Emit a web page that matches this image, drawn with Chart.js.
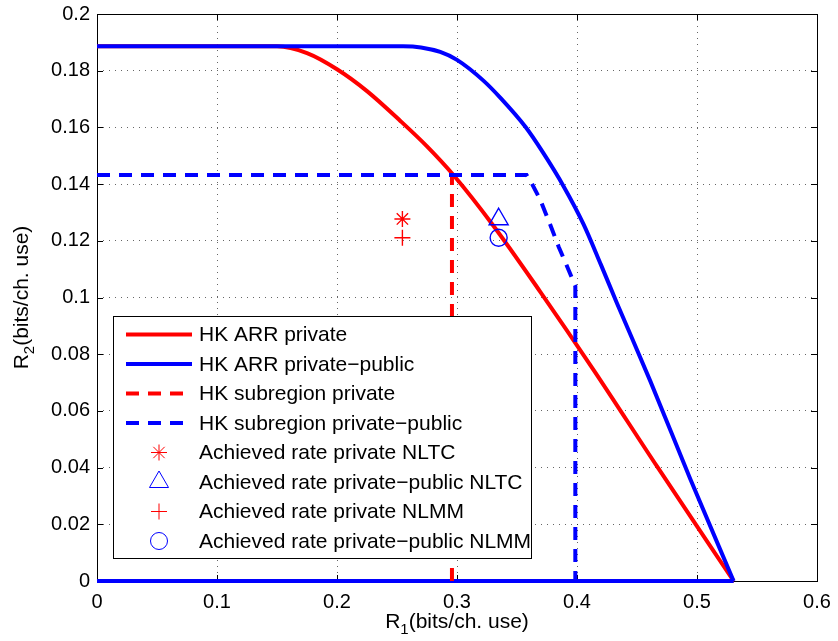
<!DOCTYPE html>
<html>
<head>
<meta charset="utf-8">
<script src="https://cdn.jsdelivr.net/npm/chart.js@4.4.0/dist/chart.umd.min.js"></script>
<style>
  html, body { margin: 0; padding: 0; background: #fff; }
  #wrap { width: 838px; height: 641px; }
</style>
</head>
<body>
<div id="wrap"><canvas id="chart"></canvas></div>
<script>
// ---- values ----
const arrPrivX = [0, 0.15, 0.175, 0.2, 0.225, 0.253, 0.275, 0.297, 0.33, 0.3694, 0.4139, 0.4667, 0.5305];
const arrPrivY = [0.1886, 0.1886, 0.1862, 0.1805, 0.1728, 0.1622, 0.1533, 0.1432, 0.1255, 0.102, 0.0744, 0.0404, 0];
const arrPubX = [0, 0.255, 0.27, 0.286, 0.3, 0.322, 0.336, 0.357, 0.372, 0.389, 0.4055, 0.42, 0.4333, 0.4611, 0.4944, 0.5305];
const arrPubY = [0.1886, 0.1886, 0.1882, 0.1866, 0.1838, 0.1765, 0.1705, 0.1602, 0.1509, 0.1391, 0.1258, 0.1115, 0.098, 0.0705, 0.036, 0];
const baseX = [0, 0.5305];
const baseY = [0, 0];
const subPrivX = [0, 0.2958, 0.2958];
const subPrivY = [0.1432, 0.1432, 0];
const subPubX = [0, 0.358, 0.362, 0.3694, 0.3778, 0.3847, 0.393, 0.3986, 0.3986];
const subPubY = [0.1432, 0.1432, 0.1405, 0.1344, 0.1256, 0.1179, 0.1097, 0.104, 0];
const privNLTC = [0.2545, 0.1277];
const pubNLTC = [0.3347, 0.1276];
const privNLMM = [0.2545, 0.1211];
const pubNLMM = [0.3347, 0.1211];

const xTicks = [0, 0.1, 0.2, 0.3, 0.4, 0.5, 0.6];
const yTicks = [0, 0.02, 0.04, 0.06, 0.08, 0.1, 0.12, 0.14, 0.16, 0.18, 0.2];

const legendNames = [
  'HK ARR private',
  'HK ARR private\u2212public',
  'HK subregion private',
  'HK subregion private\u2212public',
  'Achieved rate private NLTC',
  'Achieved rate private\u2212public NLTC',
  'Achieved rate private NLMM',
  'Achieved rate private\u2212public NLMM',
];

const RED = '#ff0000', BLUE = '#0000ff';
const FONT = "'Liberation Sans', Arial, Helvetica, sans-serif";
const pts = (xs, ys) => xs.map((x, i) => ({ x, y: ys[i] }));
const fmt = v => String(Math.round(v * 100) / 100);

function lineSet(label, xs, ys, color, dash, order, smooth) {
  return { label, data: pts(xs, ys), borderColor: color, borderWidth: 4, borderDash: dash,
    pointRadius: 0, showLine: true, fill: false, clip: false, order,
    cubicInterpolationMode: smooth ? 'monotone' : 'default', tension: 0 };
}
function markSet(label, p, color, style, r, order) {
  return { label, data: [{ x: p[0], y: p[1] }], showLine: false, pointStyle: style,
    pointRadius: r, pointBorderColor: color, pointBackgroundColor: 'rgba(0,0,0,0)',
    pointBorderWidth: 1.4, borderColor: color, clip: false, order };
}

const datasets = [
  lineSet(legendNames[0], arrPrivX, arrPrivY, RED, [], 11, true),
  lineSet(legendNames[1], arrPubX, arrPubY, BLUE, [], 9, true),
  lineSet(legendNames[2], subPrivX, subPrivY, RED, [13, 9], 7, false),
  lineSet(legendNames[3], subPubX, subPubY, BLUE, [13, 9], 6, false),
  markSet(legendNames[4], privNLTC, RED, 'star', 8, 5),
  markSet(legendNames[5], pubNLTC, BLUE, 'triangle', 11, 4),
  markSet(legendNames[6], privNLMM, RED, 'cross', 8, 3),
  markSet(legendNames[7], pubNLMM, BLUE, 'circle', 8.5, 2),
  // closing edges of the two regions along R2 = 0
  lineSet('', baseX, baseY, RED, [], 10, false),
  lineSet('', baseX, baseY, BLUE, [], 8, false),
];

// box, inward ticks, axis titles with subscripts, legend inside the axes
const matlabFrame = {
  id: 'matlabFrame',
  beforeDatasetsDraw(chart) {
    const { ctx, chartArea: a, scales } = chart;
    ctx.save();
    ctx.strokeStyle = '#000';
    ctx.lineWidth = 1;
    ctx.strokeRect(Math.round(a.left) + 0.5, Math.round(a.top) + 0.5,
      Math.round(a.right - a.left), Math.round(a.bottom - a.top));
    ctx.beginPath();
    xTicks.forEach(v => {
      const px = Math.round(scales.x.getPixelForValue(v)) + 0.5;
      ctx.moveTo(px, a.bottom); ctx.lineTo(px, a.bottom - 6);
      ctx.moveTo(px, a.top); ctx.lineTo(px, a.top + 6);
    });
    yTicks.forEach(v => {
      const py = Math.round(scales.y.getPixelForValue(v)) + 0.5;
      ctx.moveTo(a.left, py); ctx.lineTo(a.left + 6, py);
      ctx.moveTo(a.right, py); ctx.lineTo(a.right - 6, py);
    });
    ctx.stroke();
    ctx.restore();
  },
  afterDatasetsDraw(chart) {
    const ctx = chart.ctx;
    const L = 113.5, T = 316.5, W = 418, H = 242;
    ctx.save();
    ctx.fillStyle = '#fff';
    ctx.fillRect(L, T, W, H);
    ctx.strokeStyle = '#000';
    ctx.lineWidth = 1;
    ctx.strokeRect(L, T, W, H);
    ctx.font = '21px ' + FONT;
    ctx.textBaseline = 'middle';
    chart.data.datasets.slice(0, legendNames.length).forEach((ds, i) => {
      const cy = 334.5 + i * 29.5;
      if (ds.showLine) {
        ctx.save();
        ctx.strokeStyle = ds.borderColor;
        ctx.lineWidth = 4;
        ctx.setLineDash(ds.borderDash);
        ctx.beginPath();
        ctx.moveTo(126, cy); ctx.lineTo(192, cy);
        ctx.stroke();
        ctx.restore();
      } else {
        ctx.save();
        ctx.strokeStyle = ds.pointBorderColor;
        ctx.fillStyle = 'rgba(0,0,0,0)';
        Chart.helpers.drawPoint(ctx, { pointStyle: ds.pointStyle, radius: ds.pointRadius,
          rotation: 0, borderWidth: ds.pointBorderWidth }, 159, cy);
        ctx.restore();
      }
      ctx.fillStyle = '#000';
      ctx.fillText(ds.label, 199, cy + 1);
    });
    ctx.restore();
  },
  afterDraw(chart) {
    const { ctx, chartArea: a } = chart;
    const drawSub = (x0, y0, sub) => {
      ctx.font = '21px ' + FONT;
      const wR = ctx.measureText('R').width;
      const rest = '(bits/ch. use)';
      const wRest = ctx.measureText(rest).width;
      ctx.font = '15px ' + FONT;
      const wS = ctx.measureText(sub).width;
      const total = wR + wS + wRest;
      let x = x0 - total / 2;
      ctx.font = '21px ' + FONT;
      ctx.fillText('R', x, y0); x += wR;
      ctx.font = '15px ' + FONT;
      ctx.fillText(sub, x, y0 + 6); x += wS;
      ctx.font = '21px ' + FONT;
      ctx.fillText(rest, x, y0);
    };
    ctx.save();
    ctx.fillStyle = '#000';
    ctx.textBaseline = 'alphabetic';
    ctx.textAlign = 'left';
    drawSub((a.left + a.right) / 2, 628, '1');
    ctx.translate(28, (a.top + a.bottom) / 2);
    ctx.rotate(-Math.PI / 2);
    drawSub(0, 0, '2');
    ctx.restore();
  }
};

Chart.defaults.font.family = FONT;
Chart.defaults.font.size = 20;
Chart.defaults.color = '#000';

new Chart(document.getElementById('chart'), {
  type: 'scatter',
  data: { datasets },
  options: {
    responsive: true,
    maintainAspectRatio: false,
    animation: false,
    layout: { padding: { top: 14, right: 21, left: 0, bottom: 0 } },
    plugins: { legend: { display: false }, tooltip: { enabled: false } },
    scales: {
      x: {
        type: 'linear', min: 0, max: 0.6,
        afterBuildTicks: s => { s.ticks = xTicks.map(v => ({ value: v })); },
        ticks: { padding: 9, color: '#000', callback: fmt, maxRotation: 0 },
        grid: { color: 'rgba(0,0,0,0.6)', lineWidth: 1, drawTicks: false },
        border: { display: false, dash: [1, 5] },
        afterFit: s => { s.height = 60; s.paddingLeft = 0; s.paddingRight = 0; },
      },
      y: {
        type: 'linear', min: 0, max: 0.2,
        afterBuildTicks: s => { s.ticks = yTicks.map(v => ({ value: v })); },
        ticks: { padding: 7, color: '#000', callback: fmt },
        grid: { color: 'rgba(0,0,0,0.6)', lineWidth: 1, drawTicks: false },
        border: { display: false, dash: [1, 5] },
        afterFit: s => { s.width = 97; s.paddingTop = 0; s.paddingBottom = 0; },
      },
    },
  },
  plugins: [matlabFrame],
});
</script>
</body>
</html>
